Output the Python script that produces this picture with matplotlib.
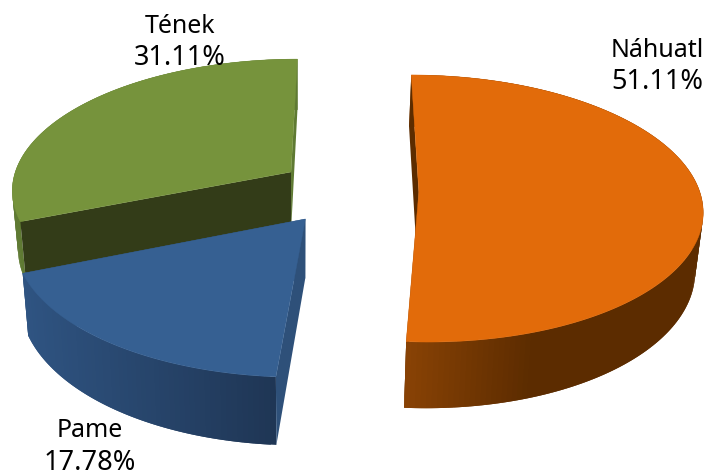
"""3D exploded pie chart, drawn by projecting each slice with a small perspective model."""

import numpy as np
import matplotlib
matplotlib.use("Agg")
import matplotlib.pyplot as plt
from matplotlib.colors import to_rgb

labels = ["Náhuatl", "Pame", "Tének"]
values = [51.11, 17.78, 31.11]
top_colors = ["#E26B0A", "#366092", "#76933C"]
# radial wall colours: (wall at slice start, wall at slice end)
radial_colors = [("#5C2C00", "#5C2C00"), ("#2E5079", "#2E5079"), ("#333C18", "#5F7A33")]
# outer wall gradient: (left colour, right colour, x where it stops changing)
wall_colors = [("#8A4305", "#5C2C00", 535), ("#2F5482", "#1F3655", 277), ("#5F7A33", "#5F7A33", 300)]
# slice apex in plane units
offsets = [(0.245, 0.0), (-0.155, -0.2), (-0.214, 0.155)]
# label positions: (x centre, name baseline, percent baseline)
label_pos = [(657, 57, 89), (90, 437, 470), (180, 33, 65)]

# projection settings, in pixels of the 705x477 picture
CX, CY = 350, 193
SCALE_X, SCALE_Y = 281, 131.5
PERSP = 0.1236
DEPTH = 58
DEPTH_VX, DEPTH_SHRINK = 300, 0.02


def project(x, y, h=0.0):
    """Plane point (x, y) at depth fraction h -> picture pixels."""
    d = 1 + PERSP * y
    px = CX + SCALE_X * x / d
    py = CY + (-SCALE_Y * y + DEPTH * h) / d
    px = DEPTH_VX + (px - DEPTH_VX) * (1 - DEPTH_SHRINK * h)
    return px, py


def rim(off, a):
    return off[0] + np.sin(a), off[1] + np.cos(a)


def draw_radial(ax, off, a, color):
    x, y = rim(off, a)
    p = [project(*off), project(x, y), project(x, y, 1), project(*off, 1)]
    ax.fill(*zip(*p), color=color, lw=0)


def draw_outer_wall(ax, off, a0, a1, colors):
    left, right, stop = colors
    left, right = np.array(to_rgb(left)), np.array(to_rgb(right))
    angles = np.linspace(a0, a1, int(np.degrees(a1 - a0)) + 2)
    x_min = min(project(*rim(off, a))[0] for a in angles)
    for i in range(len(angles) - 1):
        # each piece reaches over the next one so no seams show between them
        j = min(i + 2, len(angles) - 1)
        xa, ya = rim(off, angles[i])
        xb, yb = rim(off, angles[j])
        p = [project(xa, ya), project(xb, yb), project(xb, yb, 1), project(xa, ya, 1)]
        t = np.clip((p[0][0] - x_min) / max(stop - x_min, 1), 0, 1)
        ax.fill(*zip(*p), color=left + (right - left) * t, lw=0)


def draw_top(ax, off, a0, a1, color):
    angles = np.linspace(a0, a1, 200)
    p = [project(*off)] + [project(*rim(off, a)) for a in angles]
    ax.fill(*zip(*p), color=color, lw=0.3)


fig = plt.figure(figsize=(7.05, 4.77), dpi=100)
ax = fig.add_axes([0, 0, 1, 1])
ax.set_xlim(0, 705)
ax.set_ylim(477, 0)
ax.axis("off")

edges = np.radians(np.cumsum([0] + values) / sum(values) * 360)

# back slice first: green, then blue, orange last
for i in [2, 1, 0]:
    a0, a1 = edges[i], edges[i + 1]
    draw_radial(ax, offsets[i], a1, radial_colors[i][1])
    draw_outer_wall(ax, offsets[i], a0, a1, wall_colors[i])
    draw_radial(ax, offsets[i], a0, radial_colors[i][0])
    draw_top(ax, offsets[i], a0, a1, top_colors[i])

for name, val, pos in zip(labels, values, label_pos):
    ax.text(pos[0], pos[1], name, ha="center", va="baseline",
            fontsize=18, family="Noto Sans", color="black")
    ax.text(pos[0], pos[2], f"{val:.2f}%", ha="center", va="baseline",
            fontsize=19.5, family="Noto Sans", color="black")

fig.savefig("out.png", dpi=100)
